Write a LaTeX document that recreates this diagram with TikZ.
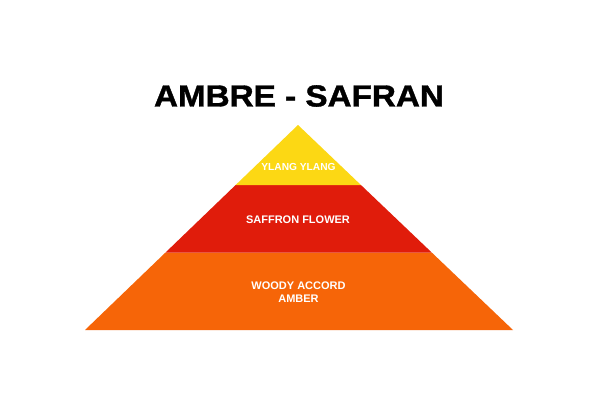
\documentclass[tikz,border=0pt]{standalone}
\usepackage{fontspec}
\setmainfont{Liberation Sans}
\newfontfamily\heavyfont{Liberation Sans Bold}[FakeBold=1.2]
\usepackage{tikz}
\usetikzlibrary{calc,positioning}
\definecolor{topnote}{HTML}{FCD814}
\definecolor{heartnote}{HTML}{E01C0B}
\definecolor{basenote}{HTML}{F66508}
\tikzset{layer/.style={line width=0pt},notelabel/.style={font=\bfseries\fontsize{11}{13}\selectfont,text=white,align=center,inner sep=0pt},heading/.style={font=\heavyfont\fontsize{30.5}{34}\selectfont,xscale=1.09,inner sep=0pt}}
\begin{document}
\begin{tikzpicture}[x=1pt,y=-1pt]
\useasboundingbox[fill=white] (0,0) rectangle (600,420);
\coordinate (apex) at (298,125);
\coordinate (bl) at (85,330);
\coordinate (br) at (513,330);
\coordinate (yl) at ($(apex)!.2927!(bl)$);
\coordinate (yr) at ($(apex)!.2927!(br)$);
\coordinate (rl) at ($(apex)!.6220!(bl)$);
\coordinate (rr) at ($(apex)!.6220!(br)$);
% pyramid layers
\fill[basenote,layer] (rl) -- (rr) -- (br) -- (bl) -- cycle;
\fill[heartnote,layer] (yl) -- (yr) -- (rr) -- (rl) -- cycle;
\fill[topnote,layer] (apex) -- (yr) -- (yl) -- cycle;
\node[heading] (title) at (299,96) {AMBRE - SAFRAN};
\node[notelabel,font=\bfseries\fontsize{10.2}{12}\selectfont] (ylang) at (298.5,166.5) {YLANG YLANG};
\node[notelabel] (saffron) at (298,219.5) {SAFFRON FLOWER};
\node[notelabel] (woody) at (298.5,292.5) {WOODY ACCORD\\AMBER};
\end{tikzpicture}
\end{document}
